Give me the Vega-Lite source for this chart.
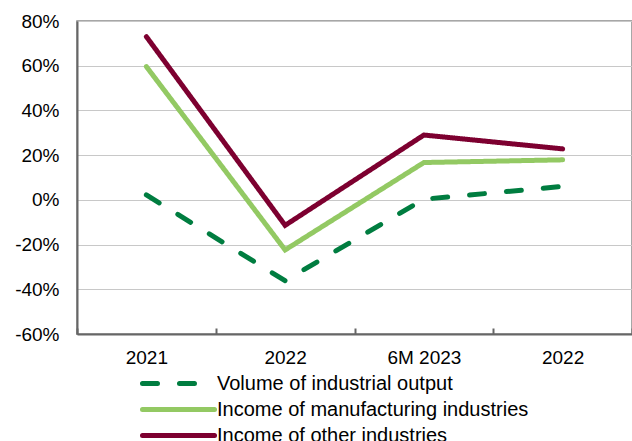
{
  "$schema": "https://vega.github.io/schema/vega-lite/v6.json",
  "width": 555,
  "height": 313,
  "autosize": {"type": "none"},
  "padding": {"left": 77, "top": 21, "right": 0, "bottom": 107},
  "config": {
    "font": "Liberation Sans",
    "view": {"stroke": "#8a8a8a", "strokeWidth": 1.5},
    "axis": {"labelFont": "Liberation Sans", "labelFontSize": 19, "labelColor": "#000", "domainColor": "#666", "domainWidth": 2, "gridColor": "#c8c8c8", "gridWidth": 1, "tickColor": "#666", "tickWidth": 2}
  },
  "data": {
    "values": [
      {"i": 0, "series": "Volume of industrial output", "v": 2.2},
      {"i": 1, "series": "Volume of industrial output", "v": -36.2},
      {"i": 2, "series": "Volume of industrial output", "v": 0.3},
      {"i": 3, "series": "Volume of industrial output", "v": 6.0},
      {"i": 0, "series": "Income of manufacturing industries", "v": 59.6},
      {"i": 1, "series": "Income of manufacturing industries", "v": -22.4},
      {"i": 2, "series": "Income of manufacturing industries", "v": 16.7},
      {"i": 3, "series": "Income of manufacturing industries", "v": 17.9},
      {"i": 0, "series": "Income of other industries", "v": 73.0},
      {"i": 1, "series": "Income of other industries", "v": -11.4},
      {"i": 2, "series": "Income of other industries", "v": 29.0},
      {"i": 3, "series": "Income of other industries", "v": 22.8}
    ]
  },
  "mark": {"type": "line", "strokeWidth": 5, "strokeCap": "round", "strokeJoin": "miter"},
  "encoding": {
    "x": {
      "field": "i", "type": "ordinal",
      "scale": {"paddingInner": 0, "paddingOuter": 0},
      "axis": {"title": null, "labelAngle": 0, "labelExpr": "['2021','2022','6M 2023','2022'][datum.value]", "tickBand": "extent", "tickSize": -6, "labelPadding": 20, "grid": false}
    },
    "y": {
      "field": "v", "type": "quantitative",
      "scale": {"domain": [-60, 80], "nice": false},
      "axis": {"title": null, "values": [-60, -40, -20, 0, 20, 40, 60, 80], "labelExpr": "datum.value + '%'", "ticks": false, "labelPadding": 18, "grid": true}
    },
    "color": {
      "field": "series", "type": "nominal",
      "scale": {
        "domain": ["Volume of industrial output", "Income of manufacturing industries", "Income of other industries"],
        "range": ["#007d40", "#93c963", "#7d0030"]
      },
      "legend": {
        "title": null, "orient": "none", "direction": "vertical", "legendX": 86, "legendY": 347, "padding": 0,
        "symbolType": "M-2.77,0H2.77", "symbolSize": 676, "symbolStrokeWidth": 5,
        "labelFontSize": 20, "labelColor": "#000", "labelOffset": 23, "labelLimit": 500, "rowPadding": 0,
        "encode": {"symbols": {"update": {"strokeCap": {"value": "round"}}}}
      }
    },
    "strokeDash": {
      "field": "series", "type": "nominal",
      "scale": {
        "domain": ["Volume of industrial output", "Income of manufacturing industries", "Income of other industries"],
        "range": [[15, 22], [1, 0], [1, 0]]
      },
      "legend": null
    }
  }
}
